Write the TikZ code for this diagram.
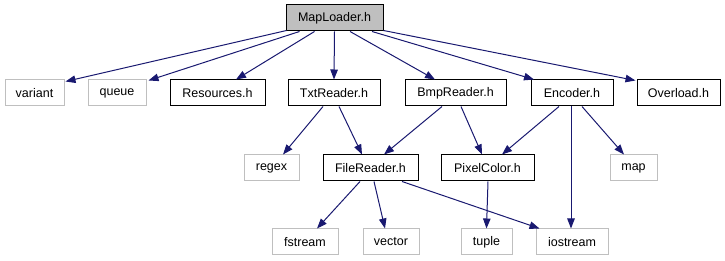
\documentclass[tikz,border=0pt]{standalone}
\usepackage{fontspec}
\setmainfont{Liberation Sans}
\usetikzlibrary{arrows.meta}
\definecolor{edgeblue}{HTML}{191970}
\definecolor{sysgray}{HTML}{BFBFBF}
\begin{document}
\begin{tikzpicture}[x=1pt,y=-1pt,
  hdr/.style={draw=black, fill=white, line width=1pt, minimum height=26pt,
    inner sep=0pt, font=\fontsize{12.5}{14}\selectfont},
  sys/.style={hdr, draw=sysgray},
  root/.style={hdr, fill=sysgray},
  dep/.style={draw=edgeblue, line width=1pt,
    -{Triangle[length=10pt,width=7.5pt]}}]
\useasboundingbox (0,0) rectangle (725,261);

% top: the file whose includes are shown
\node[root, minimum width=97pt] (ml) at (334.5,18) {MapLoader.h};

% direct includes
\node[sys, minimum width=59pt]  (variant) at (34.5,93)  {variant};
\node[sys, minimum width=58pt]  (queue)   at (117,93)   {queue};
\node[hdr, minimum width=95pt]  (res)     at (217.5,93) {Resources.h};
\node[hdr, minimum width=92pt]  (txt)     at (334,93)   {TxtReader.h};
\node[hdr, minimum width=101pt] (bmp)     at (455.5,93) {BmpReader.h};
\node[hdr, minimum width=82pt]  (enc)     at (572,93)   {Encoder.h};
\node[hdr, minimum width=83pt]  (ovl)     at (678.5,93) {Overload.h};

% second level
\node[sys, minimum width=55pt]  (regex)   at (271.5,168) {regex};
\node[hdr, minimum width=95pt]  (file)    at (370.5,168) {FileReader.h};
\node[hdr, minimum width=93pt]  (pix)     at (487.5,168) {PixelColor.h};
\node[sys, minimum width=47pt]  (map)     at (633.5,168) {map};

% standard headers at the bottom
\node[sys, minimum width=66pt]  (fstream) at (305,242)   {fstream};
\node[sys, minimum width=56pt]  (vector)  at (391,242)   {vector};
\node[sys, minimum width=51pt]  (tuple)   at (486.5,242) {tuple};
\node[sys, minimum width=72pt]  (ios)     at (572,242)   {iostream};

% include edges
\draw[dep] ([xshift=1pt,yshift=1pt]ml.south west) -- ([xshift=1pt,yshift=-2pt]variant.north east);
\draw[dep] ([xshift=14pt]ml.south west) -- ([xshift=2pt,yshift=-1pt]queue.north east);
\draw[dep] ([xshift=29pt]ml.south west) -- ([xshift=18.5pt]res.north);
\draw[dep] (ml.south) -- (txt.north);
\draw[dep] ([xshift=15.5pt]ml.south) -- ([xshift=-20.5pt]bmp.north);
\draw[dep] ([xshift=37.5pt]ml.south) -- ([xshift=-38pt]enc.north);
\draw[dep] ([yshift=1pt]ml.south east) -- ([xshift=-1pt,yshift=-1pt]ovl.north west);

\draw[dep] ([xshift=-11pt]txt.south) -- ([xshift=11.5pt]regex.north);
\draw[dep] ([xshift=5pt]txt.south) -- ([xshift=-8.5pt]file.north);
\draw[dep] ([xshift=-13.5pt]bmp.south) -- ([xshift=13.5pt]file.north);
\draw[dep] ([xshift=5.5pt]bmp.south) -- ([xshift=-5.5pt]pix.north);
\draw[dep] ([xshift=-13pt]enc.south) -- ([xshift=14.5pt]pix.north);
\draw[dep] ([xshift=-1pt]enc.south) -- ([xshift=-1pt]ios.north);
\draw[dep] ([xshift=10pt]enc.south) -- ([xshift=-9.5pt]map.north);

\draw[dep] ([xshift=-10.5pt]file.south) -- ([xshift=12pt]fstream.north);
\draw[dep] ([xshift=3.5pt]file.south) -- ([xshift=-6pt]vector.north);
\draw[dep] ([xshift=31.5pt]file.south) -- ([xshift=4pt]ios.north west);
\draw[dep] ([xshift=0.5pt]pix.south) -- (tuple.north);
\end{tikzpicture}
\end{document}
